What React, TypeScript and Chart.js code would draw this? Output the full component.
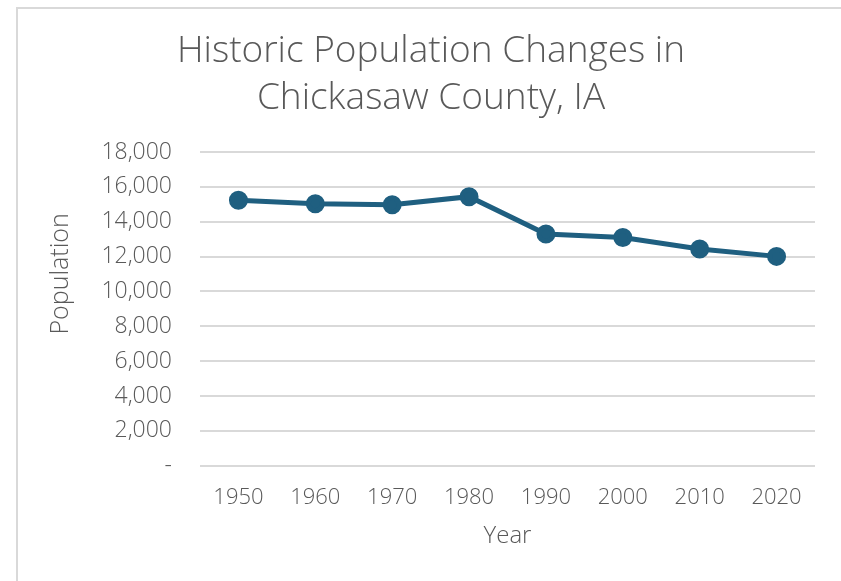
import React, { useEffect, useRef } from "react";
import { Chart, registerables } from "chart.js";

Chart.register(...registerables);

const years = ["1950", "1960", "1970", "1980", "1990", "2000", "2010", "2020"];
const population = [15228, 15034, 14969, 15437, 13295, 13095, 12439, 12012];
const titleLines = ["Historic Population Changes in", "Chickasaw County, IA"];
const yTitle = "Population";
const xTitle = "Year";

const FONT = "'Open Sans', 'Noto Sans', sans-serif";
const TEXT = "#595959";
const LINE = "#1f5f80";

const yTitlePlugin = {
  id: "yTitleOffset",
  afterDraw(chart: any) {
    const { ctx, chartArea } = chart;
    ctx.save();
    ctx.fillStyle = TEXT;
    ctx.font = `300 25px ${FONT}`;
    ctx.textAlign = "center";
    ctx.textBaseline = "middle";
    ctx.translate(chartArea.left - 139, (chartArea.top + chartArea.bottom) / 2 - 35);
    ctx.rotate(-Math.PI / 2);
    ctx.fillText(yTitle, 0, 0);
    ctx.restore();
  },
};

export default function App() {
  const ref = useRef<HTMLCanvasElement | null>(null);
  useEffect(() => {
    if (!ref.current) return;
    const chart = new Chart(ref.current, {
      type: "line",
      data: {
        labels: years,
        datasets: [
          {
            data: population,
            borderColor: LINE,
            backgroundColor: LINE,
            borderWidth: 5,
            pointRadius: 7,
            pointHoverRadius: 7,
            pointBackgroundColor: LINE,
            pointBorderColor: LINE,
            tension: 0,
          },
        ],
      },
      plugins: [yTitlePlugin],
      options: {
        responsive: false,
        animation: false,
        layout: { padding: { top: 28, left: 47, right: 26, bottom: 30 } },
        plugins: {
          legend: { display: false },
          tooltip: { enabled: false },
          title: {
            display: true,
            text: titleLines,
            color: TEXT,
            font: { family: FONT, size: 37, weight: "300" as any, lineHeight: 1.27 },
            padding: { top: 0, bottom: 30 },
          },
        },
        scales: {
          x: {
            offset: true,
            grid: { display: false },
            border: { display: false },
            ticks: { color: TEXT, font: { family: FONT, size: 22, weight: "300" as any }, padding: 11 },
            title: {
              display: true,
              text: xTitle,
              color: TEXT,
              font: { family: FONT, size: 24, weight: "300" as any },
              padding: { top: 0, bottom: 0 },
            },
          },
          y: {
            min: 0,
            max: 18000,
            border: { display: false },
            grid: { color: "#d9d9d9", lineWidth: 2, drawTicks: false },
            ticks: {
              stepSize: 2000,
              color: TEXT,
              font: { family: FONT, size: 23, weight: "300" as any },
              padding: 28,
              callback: (v: any) => (Number(v) === 0 ? "-" : Number(v).toLocaleString("en-US")),
            },
            afterFit: (scale: any) => {
              scale.width = 153;
            },
          },
        },
      },
    });
    return () => chart.destroy();
  }, []);

  return (
    <div style={{ position: "fixed", left: 0, top: 0, width: 841, height: 581, background: "#fff", overflow: "hidden" }}>
      <div
        style={{
          position: "absolute",
          left: 16,
          top: 7,
          width: 900,
          height: 700,
          border: "2px solid #d9d9d9",
          boxSizing: "border-box",
        }}
      />
      <canvas ref={ref} width={841} height={581} style={{ position: "absolute", left: 0, top: 0 }} />
    </div>
  );
}
